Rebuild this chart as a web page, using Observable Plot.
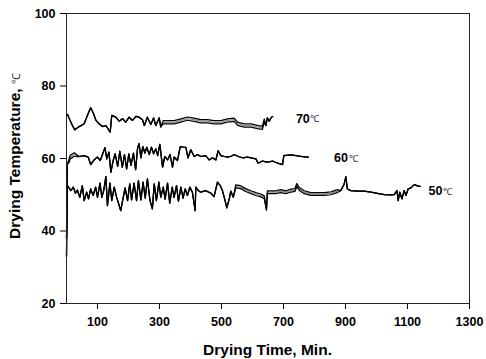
<!DOCTYPE html>
<html>
<head>
<meta charset="utf-8">
<script src="https://cdn.jsdelivr.net/npm/d3@7"></script>
<script src="https://cdn.jsdelivr.net/npm/@observablehq/plot@0.6"></script>
<style>
  html, body { margin: 0; padding: 0; background: white; }
</style>
</head>
<body>
<div id="chart"></div>
<script>
// Drying time (min) and temperature (°C)
const times70 = [3, 9, 19, 27, 41, 57, 70, 78, 87, 95, 105, 116, 127, 141, 146, 159, 170, 181, 191, 202, 213, 224, 234, 245, 251, 261, 272, 281, 288, 299, 304, 312, 326, 347, 369, 390, 412, 433, 455, 476, 498, 519, 541, 552, 573, 595, 616, 632, 638, 643, 648, 654, 661, 665];
const temps70 = [72.2, 71.0, 69.1, 67.9, 68.8, 69.6, 72.4, 74.0, 72.4, 70.5, 69.6, 68.8, 69.1, 67.3, 71.9, 71.4, 70.3, 71.0, 70.0, 71.4, 70.5, 71.6, 71.4, 70.7, 69.1, 71.4, 69.4, 71.2, 69.1, 71.2, 68.7, 70.0, 70.0, 70.0, 70.5, 71.0, 70.7, 70.3, 70.3, 70.0, 70.0, 70.5, 70.7, 69.6, 69.1, 69.1, 68.7, 68.5, 70.5, 69.1, 71.2, 70.3, 71.4, 71.6];

const times60 = [0, 3, 9, 12, 25, 41, 57, 70, 78, 89, 100, 109, 116, 124, 130, 137, 143, 151, 157, 165, 172, 180, 187, 194, 201, 208, 216, 223, 229, 234, 240, 246, 253, 259, 267, 274, 281, 288, 294, 301, 310, 317, 326, 334, 342, 347, 358, 367, 377, 385, 392, 401, 412, 423, 433, 449, 460, 471, 482, 489, 498, 509, 519, 530, 541, 554, 568, 584, 595, 611, 618, 632, 648, 665, 681, 697, 701, 724, 745, 761, 777, 780];
const temps60 = [33.0, 58.5, 59.5, 60.4, 61.1, 60.55, 60.8, 60.4, 58.3, 59.6, 60.4, 59.45, 61.1, 63.0, 59.9, 61.75, 56.2, 59.6, 61.3, 57.8, 62.0, 57.6, 61.1, 57.1, 61.3, 58.1, 61.5, 56.9, 62.7, 64.1, 60.2, 63.3, 61.5, 63.1, 61.1, 63.1, 61.3, 62.7, 60.8, 63.9, 57.6, 60.55, 59.6, 61.1, 57.6, 60.4, 59.45, 63.3, 63.1, 63.1, 60.2, 62.4, 60.55, 61.1, 60.55, 60.8, 59.6, 60.2, 59.6, 62.2, 60.8, 60.55, 60.4, 60.55, 61.1, 60.55, 60.2, 60.4, 60.2, 59.9, 58.7, 59.3, 59.0, 59.3, 58.7, 58.3, 60.8, 61.0, 60.7, 60.55, 60.4, 60.4];

const times50 = [0, 3, 14, 22, 29, 35, 43, 51, 57, 65, 71, 78, 86, 94, 100, 108, 114, 120, 127, 132, 140, 146, 154, 161, 169, 175, 183, 189, 197, 204, 210, 218, 226, 232, 240, 247, 254, 261, 269, 277, 283, 290, 298, 304, 312, 318, 326, 333, 341, 347, 355, 361, 369, 376, 383, 390, 398, 406, 415, 417, 425, 433, 449, 466, 476, 487, 496, 503, 511, 517, 525, 530, 538, 546, 562, 578, 595, 611, 627, 638, 645, 648, 659, 675, 691, 708, 724, 737, 743, 751, 767, 788, 810, 831, 853, 874, 885, 896, 901, 906, 917, 939, 960, 982, 1003, 1025, 1046, 1057, 1066, 1070, 1075, 1082, 1089, 1095, 1102, 1111, 1122, 1130, 1138, 1141];
const temps50 = [38.0, 52.5, 51.15, 52.1, 50.4, 51.3, 49.3, 52.5, 48.4, 50.7, 48.85, 51.6, 49.8, 52.1, 49.3, 53.2, 49.3, 51.15, 55.0, 47.0, 53.2, 48.4, 52.1, 49.5, 47.3, 45.6, 49.3, 51.9, 48.4, 53.0, 48.6, 53.2, 48.4, 53.9, 48.6, 53.5, 49.1, 54.4, 48.6, 46.1, 53.0, 48.4, 53.5, 49.3, 52.1, 48.8, 53.2, 47.65, 52.1, 49.3, 52.5, 48.2, 52.1, 49.1, 51.6, 49.8, 52.1, 50.7, 45.6, 52.1, 51.15, 50.7, 51.15, 50.4, 49.5, 53.5, 52.5, 51.15, 48.6, 46.4, 48.85, 51.0, 49.3, 52.3, 52.1, 51.3, 50.7, 50.2, 49.8, 49.3, 45.8, 50.7, 50.7, 50.7, 51.0, 50.7, 51.15, 51.3, 52.7, 51.6, 50.7, 50.2, 50.2, 50.2, 50.4, 51.0, 51.15, 53.0, 55.0, 51.6, 51.15, 51.0, 51.0, 50.7, 50.4, 50.05, 49.95, 50.05, 51.15, 48.4, 50.7, 48.85, 51.15, 49.8, 51.6, 51.9, 52.8, 52.5, 52.3, 52.3];

// Where the three sensor traces separate: [from min, to min, half gap °C]
const gap70 = [[312, 640, 0.45]];
const gap60 = [[5, 30, 0.5]];
const gap50 = [[546, 640, 0.4], [648, 880, 0.4]];

// Series labels
const labelNums = ["70", "60", "50"];
const labelTimes = [740, 863, 1168];
const labelTemps = [71.0, 60.1, 51.0];

// Axis ticks
const xTicks = [100, 300, 500, 700, 900, 1100, 1300];
const yTicks = [20, 40, 60, 80, 100];

function traces(name, times, temps, gaps) {
  const rows = [];
  for (const k of [-1, 0, 1]) {
    times.forEach((t, i) => {
      const g = gaps.find(([a, b]) => t >= a && t <= b);
      rows.push({t, T: temps[i] + k * (g ? g[2] : 0), z: name + ":" + k, k});
    });
  }
  return rows;
}
const rows = [
  ...traces("70", times70, temps70, gap70),
  ...traces("60", times60, temps60, gap60),
  ...traces("50", times50, temps50, gap50)
];
const labels = labelNums.map((n, i) => ({n, t: labelTimes[i], T: labelTemps[i]}));

const font = "'Liberation Sans', Arial, Helvetica, sans-serif";

const chart = Plot.plot({
  width: 486,
  height: 359,
  marginLeft: 66,
  marginRight: 17,
  marginTop: 13,
  marginBottom: 56,
  style: {fontFamily: font, fontSize: "12.5px", fontWeight: "bold", background: "white", color: "black", overflow: "visible"},
  x: {domain: [0, 1300]},
  y: {domain: [20, 100]},
  marks: [
    Plot.axisX({ticks: xTicks, tickSize: 6, tickPadding: 8, label: null, tickFormat: d => String(d)}),
    Plot.axisY({ticks: yTicks, tickSize: 6, tickPadding: 5, label: null}),
    Plot.line(rows.filter(d => d.k === 0), {x: "t", y: "T", z: "z", stroke: "#8a8a8a", strokeWidth: 1.25}),
    Plot.line(rows.filter(d => d.k !== 0), {x: "t", y: "T", z: "z", stroke: "black", strokeWidth: 1.25}),
    Plot.frame({stroke: "#222", strokeWidth: 1}),
    Plot.text(labels, {x: "t", y: "T", text: "n", textAnchor: "start", fontWeight: "bold", fontSize: 12.5, fill: "black"}),
    Plot.text(labels, {x: "t", y: "T", text: () => "℃", textAnchor: "start", dx: 14.5, dy: 0.5, fontWeight: "normal", fontSize: 9.5, fill: "#333"})
  ]
});

document.getElementById("chart").appendChild(chart);

// Axis titles
const svg = d3.select(chart);
svg.append("text")
  .attr("x", 267.5).attr("y", 355)
  .attr("text-anchor", "middle")
  .attr("font-family", font).attr("font-weight", "bold").attr("font-size", 15.5)
  .attr("fill", "black")
  .text("Drying Time, Min.");

const yt = svg.append("text")
  .attr("transform", "translate(20,156) rotate(-90)")
  .attr("text-anchor", "middle")
  .attr("font-family", font).attr("font-size", 15.5)
  .attr("fill", "black");
yt.append("tspan").attr("font-weight", "bold").text("Drying Temperature, ");
yt.append("tspan").attr("font-weight", "normal").attr("font-size", 11).attr("fill", "#333").text("℃");
</script>
</body>
</html>
